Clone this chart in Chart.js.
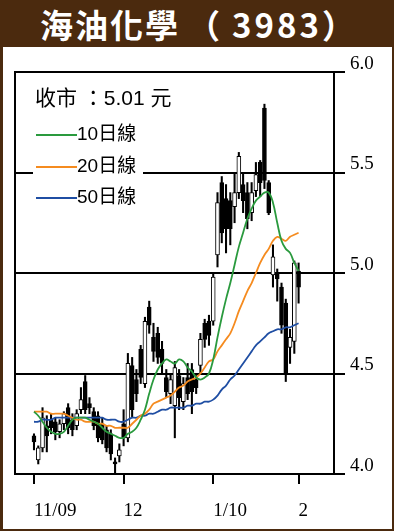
<!DOCTYPE html>
<html>
<head>
<meta charset="utf-8">
<script src="https://cdn.jsdelivr.net/npm/chart.js@4.4.0/dist/chart.umd.min.js"></script>
<style>
html, body { margin: 0; padding: 0; }
body { width: 394px; height: 531px; background: #4b2a0e; position: relative; overflow: hidden; }
#title { position: absolute; left: 40px; top: 0; height: 47px; line-height: 47px; color: #fff;
  font: bold 33px "Noto Sans CJK TC"; letter-spacing: 2px; white-space: nowrap; }
#title .p1 { margin-left: 7px; }
#title .num { margin-left: 10px; letter-spacing: 3px; }
#panel { position: absolute; left: 3px; top: 47px; width: 389px; height: 482px; background: #fff; }
#legend { position: absolute; left: 30px; top: 33px; width: 110px; height: 130px; background: #fff; }
#legend .close { position: absolute; left: 2px; top: 5px; font: 21px "Liberation Sans", "Noto Sans CJK TC"; line-height: 26px; color: #000; white-space: nowrap; }
#legend .row { position: absolute; left: 3px; height: 22px; font: 19px "Liberation Sans", "Noto Sans CJK TC"; line-height: 22px; color: #000; white-space: nowrap; }
#legend .row i { display: inline-block; width: 41px; height: 2px; vertical-align: middle; margin-right: 0; }
</style>
</head>
<body>
<div id="title">海油化學<span class="p1">（</span><span class="num">3983</span>）</div>
<div id="panel">
  <canvas id="myChart" width="389" height="482"></canvas>
  <div id="legend">
    <div class="close">收市 ：5.01 元</div>
    <div class="row" style="top:43px"><i style="background:#2a9a3e"></i>10日線</div>
    <div class="row" style="top:75px"><i style="background:#f58b1f"></i>20日線</div>
    <div class="row" style="top:106px"><i style="background:#1f4ea3"></i>50日線</div>
  </div>
</div>
<script>
// 2009/11/02 - 2010/02/01 daily bars, x = trading day index
var tickIdx = [0, 21, 42, 62];
var tickLabels = ["11/09", "12", "1/10", "2"];
var yTicks = [4.0, 4.5, 5.0, 5.5, 6.0];

var openP = [4.19, 4.07, 4.13, 4.24, 4.27, 4.26, 4.21, 4.25, 4.33, 4.27,
             4.24, 4.32, 4.46, 4.35, 4.31, 4.29, 4.25, 4.22, 4.20, 4.06,
             4.09, 4.25, 4.18, 4.54, 4.47, 4.62, 4.45, 4.83, 4.68, 4.70,
             4.62, 4.48, 4.40, 4.34, 4.49, 4.36, 4.48, 4.52, 4.47, 4.54,
             4.75, 4.76, 4.76, 5.09, 5.45, 5.37, 5.36, 5.33, 5.40, 5.44,
             5.40, 5.30, 5.41, 5.55, 5.82, 5.45, 4.99, 5.00, 4.93, 4.85,
             4.63, 4.66, 5.01];
var highP = [4.20, 4.14, 4.33, 4.29, 4.30, 4.28, 4.27, 4.31, 4.35, 4.30,
             4.32, 4.43, 4.49, 4.38, 4.33, 4.31, 4.28, 4.24, 4.22, 4.08,
             4.15, 4.32, 4.60, 4.58, 4.52, 4.64, 4.78, 4.86, 4.75, 4.73,
             4.66, 4.52, 4.50, 4.56, 4.52, 4.48, 4.55, 4.55, 4.49, 4.70,
             4.77, 4.79, 5.00, 5.40, 5.48, 5.44, 5.40, 5.50, 5.60, 5.50,
             5.45, 5.45, 5.55, 5.56, 5.84, 5.46, 5.14, 5.02, 4.95, 4.87,
             4.72, 5.06, 5.05];
var lowP = [4.12, 4.05, 4.11, 4.11, 4.20, 4.17, 4.18, 4.22, 4.20, 4.19,
            4.22, 4.30, 4.30, 4.30, 4.22, 4.16, 4.15, 4.11, 4.07, 4.00,
            4.06, 4.14, 4.16, 4.28, 4.36, 4.45, 4.43, 4.70, 4.56, 4.55,
            4.50, 4.38, 4.35, 4.18, 4.32, 4.32, 4.37, 4.30, 4.40, 4.50,
            4.63, 4.64, 4.74, 5.03, 5.15, 5.10, 5.14, 5.25, 5.37, 5.30,
            5.22, 5.26, 5.38, 5.38, 5.42, 5.29, 4.93, 4.86, 4.70, 4.46,
            4.55, 4.60, 4.85];
var closeP = [4.16, 4.13, 4.28, 4.19, 4.23, 4.21, 4.25, 4.30, 4.23, 4.22,
              4.30, 4.37, 4.32, 4.33, 4.24, 4.18, 4.17, 4.13, 4.10, 4.05,
              4.12, 4.18, 4.55, 4.32, 4.40, 4.48, 4.76, 4.74, 4.61, 4.58,
              4.55, 4.41, 4.47, 4.53, 4.38, 4.45, 4.40, 4.41, 4.43, 4.67,
              4.67, 4.69, 4.98, 5.35, 5.20, 5.22, 5.22, 5.40, 5.58, 5.36,
              5.27, 5.40, 5.49, 5.45, 5.46, 5.30, 5.08, 4.97, 4.74, 4.50,
              4.68, 5.05, 4.93];

var ma10 = [4.31, 4.29, 4.26, 4.23, 4.21, 4.20, 4.20, 4.21, 4.24, 4.27,
            4.28, 4.28, 4.28, 4.27, 4.26, 4.25, 4.23, 4.21, 4.20, 4.19,
            4.18, 4.18, 4.20, 4.21, 4.23, 4.27, 4.32, 4.40, 4.47, 4.52,
            4.55, 4.57, 4.56, 4.55, 4.57, 4.56, 4.53, 4.51, 4.48, 4.47,
            4.48, 4.50, 4.57, 4.68, 4.78, 4.87, 4.95, 5.04, 5.13, 5.20,
            5.27, 5.32, 5.36, 5.38, 5.40, 5.40, 5.35, 5.25, 5.16, 5.12,
            5.10, 5.05, 5.01];
var ma20 = [4.31, 4.31, 4.31, 4.31, 4.30, 4.30, 4.30, 4.30, 4.29, 4.28,
            4.27, 4.27, 4.26, 4.26, 4.26, 4.25, 4.25, 4.24, 4.24, 4.23,
            4.23, 4.23, 4.23, 4.25, 4.27, 4.29, 4.30, 4.32, 4.35, 4.36,
            4.37, 4.38, 4.39, 4.41, 4.43, 4.44, 4.46, 4.47, 4.48, 4.50,
            4.53, 4.56, 4.57, 4.61, 4.64, 4.67, 4.70, 4.75, 4.81, 4.86,
            4.91, 4.95, 5.00, 5.05, 5.09, 5.12, 5.16, 5.18, 5.17, 5.16,
            5.18, 5.19, 5.20];
var ma50 = [4.26, 4.26, 4.27, 4.27, 4.27, 4.28, 4.28, 4.28, 4.28, 4.28,
            4.28, 4.28, 4.28, 4.28, 4.28, 4.28, 4.28, 4.27, 4.27, 4.27,
            4.26, 4.26, 4.27, 4.28, 4.28, 4.29, 4.29, 4.30, 4.30, 4.31,
            4.32, 4.32, 4.33, 4.33, 4.33, 4.33, 4.34, 4.34, 4.35, 4.35,
            4.36, 4.36, 4.37, 4.39, 4.42, 4.44, 4.47, 4.49, 4.52, 4.55,
            4.58, 4.61, 4.64, 4.66, 4.68, 4.70, 4.71, 4.72, 4.72, 4.73,
            4.73, 4.74, 4.75];

function pts(arr) {
    var out = [];
    for (var i = 0; i < arr.length; i++) out.push({x: i, y: arr[i]});
    return out;
}

var wicks = [], bodies = [], bodyColors = [];
for (var i = 0; i < openP.length; i++) {
    wicks.push({x: i, y: [lowP[i], highP[i]]});
    bodies.push({x: i, y: [openP[i], closeP[i]]});
    bodyColors.push(closeP[i] > openP[i] ? "#ffffff" : "#000000");
}

var serif = {family: '"Liberation Serif", "Times New Roman", serif', size: 19};

// left side of the frame
var frame = {
    id: "frame",
    afterDraw: function (chart) {
        var a = chart.chartArea, c = chart.ctx;
        c.save();
        c.strokeStyle = "#000";
        c.lineWidth = 2;
        c.beginPath();
        c.moveTo(a.left, a.top - 1);
        c.lineTo(a.left, a.bottom + 1);
        c.stroke();
        c.restore();
    }
};

var ctx = document.getElementById("myChart").getContext("2d");
var mychart = new Chart(ctx, {
    type: "bar",
    data: {
        datasets: [
            {type: "line", data: pts(ma10), borderColor: "#2a9a3e", borderWidth: 1.8, pointRadius: 0, tension: 0.4, order: 1},
            {type: "line", data: pts(ma20), borderColor: "#f58b1f", borderWidth: 1.8, pointRadius: 0, tension: 0.4, order: 1},
            {type: "line", data: pts(ma50), borderColor: "#1f4ea3", borderWidth: 1.8, pointRadius: 0, tension: 0.4, order: 1},
            {data: bodies, backgroundColor: bodyColors, borderColor: "#000", borderWidth: 1,
             borderSkipped: false, barThickness: 4, grouped: false, order: 2},
            {data: wicks, backgroundColor: "#000", borderWidth: 0, barThickness: 1.4, grouped: false, order: 3}
        ]
    },
    options: {
        responsive: false,
        animation: false,
        layout: {padding: {left: 12, top: 25, right: 0, bottom: 0}},
        plugins: {legend: {display: false}, tooltip: {enabled: false}},
        scales: {
            x: {
                type: "linear", min: -4.45, max: 70.3, offset: false,
                afterBuildTicks: function (s) { s.ticks = tickIdx.map(function (v) { return {value: v}; }); },
                afterFit: function (s) { s.height = 55; },
                grid: {offset: false, drawOnChartArea: false, drawTicks: true, tickLength: 10, color: "#000", lineWidth: 2},
                border: {display: true, color: "#000", width: 2},
                ticks: {
                    align: "start", padding: 16, color: "#000", font: serif, autoSkip: false, maxRotation: 0,
                    callback: function (v) { return tickLabels[tickIdx.indexOf(v)]; }
                }
            },
            y: {
                position: "right", min: 4, max: 6,
                afterBuildTicks: function (s) { s.ticks = yTicks.map(function (v) { return {value: v}; }); },
                afterFit: function (s) { s.width = 58; },
                grid: {color: "#000", lineWidth: 2, tickLength: 11, drawTicks: true},
                border: {display: true, color: "#000", width: 2},
                ticks: {
                    padding: 5, labelOffset: -8, color: "#000", font: serif,
                    callback: function (v) { return v.toFixed(1); }
                }
            }
        }
    },
    plugins: [frame]
});
</script>
</body>
</html>
